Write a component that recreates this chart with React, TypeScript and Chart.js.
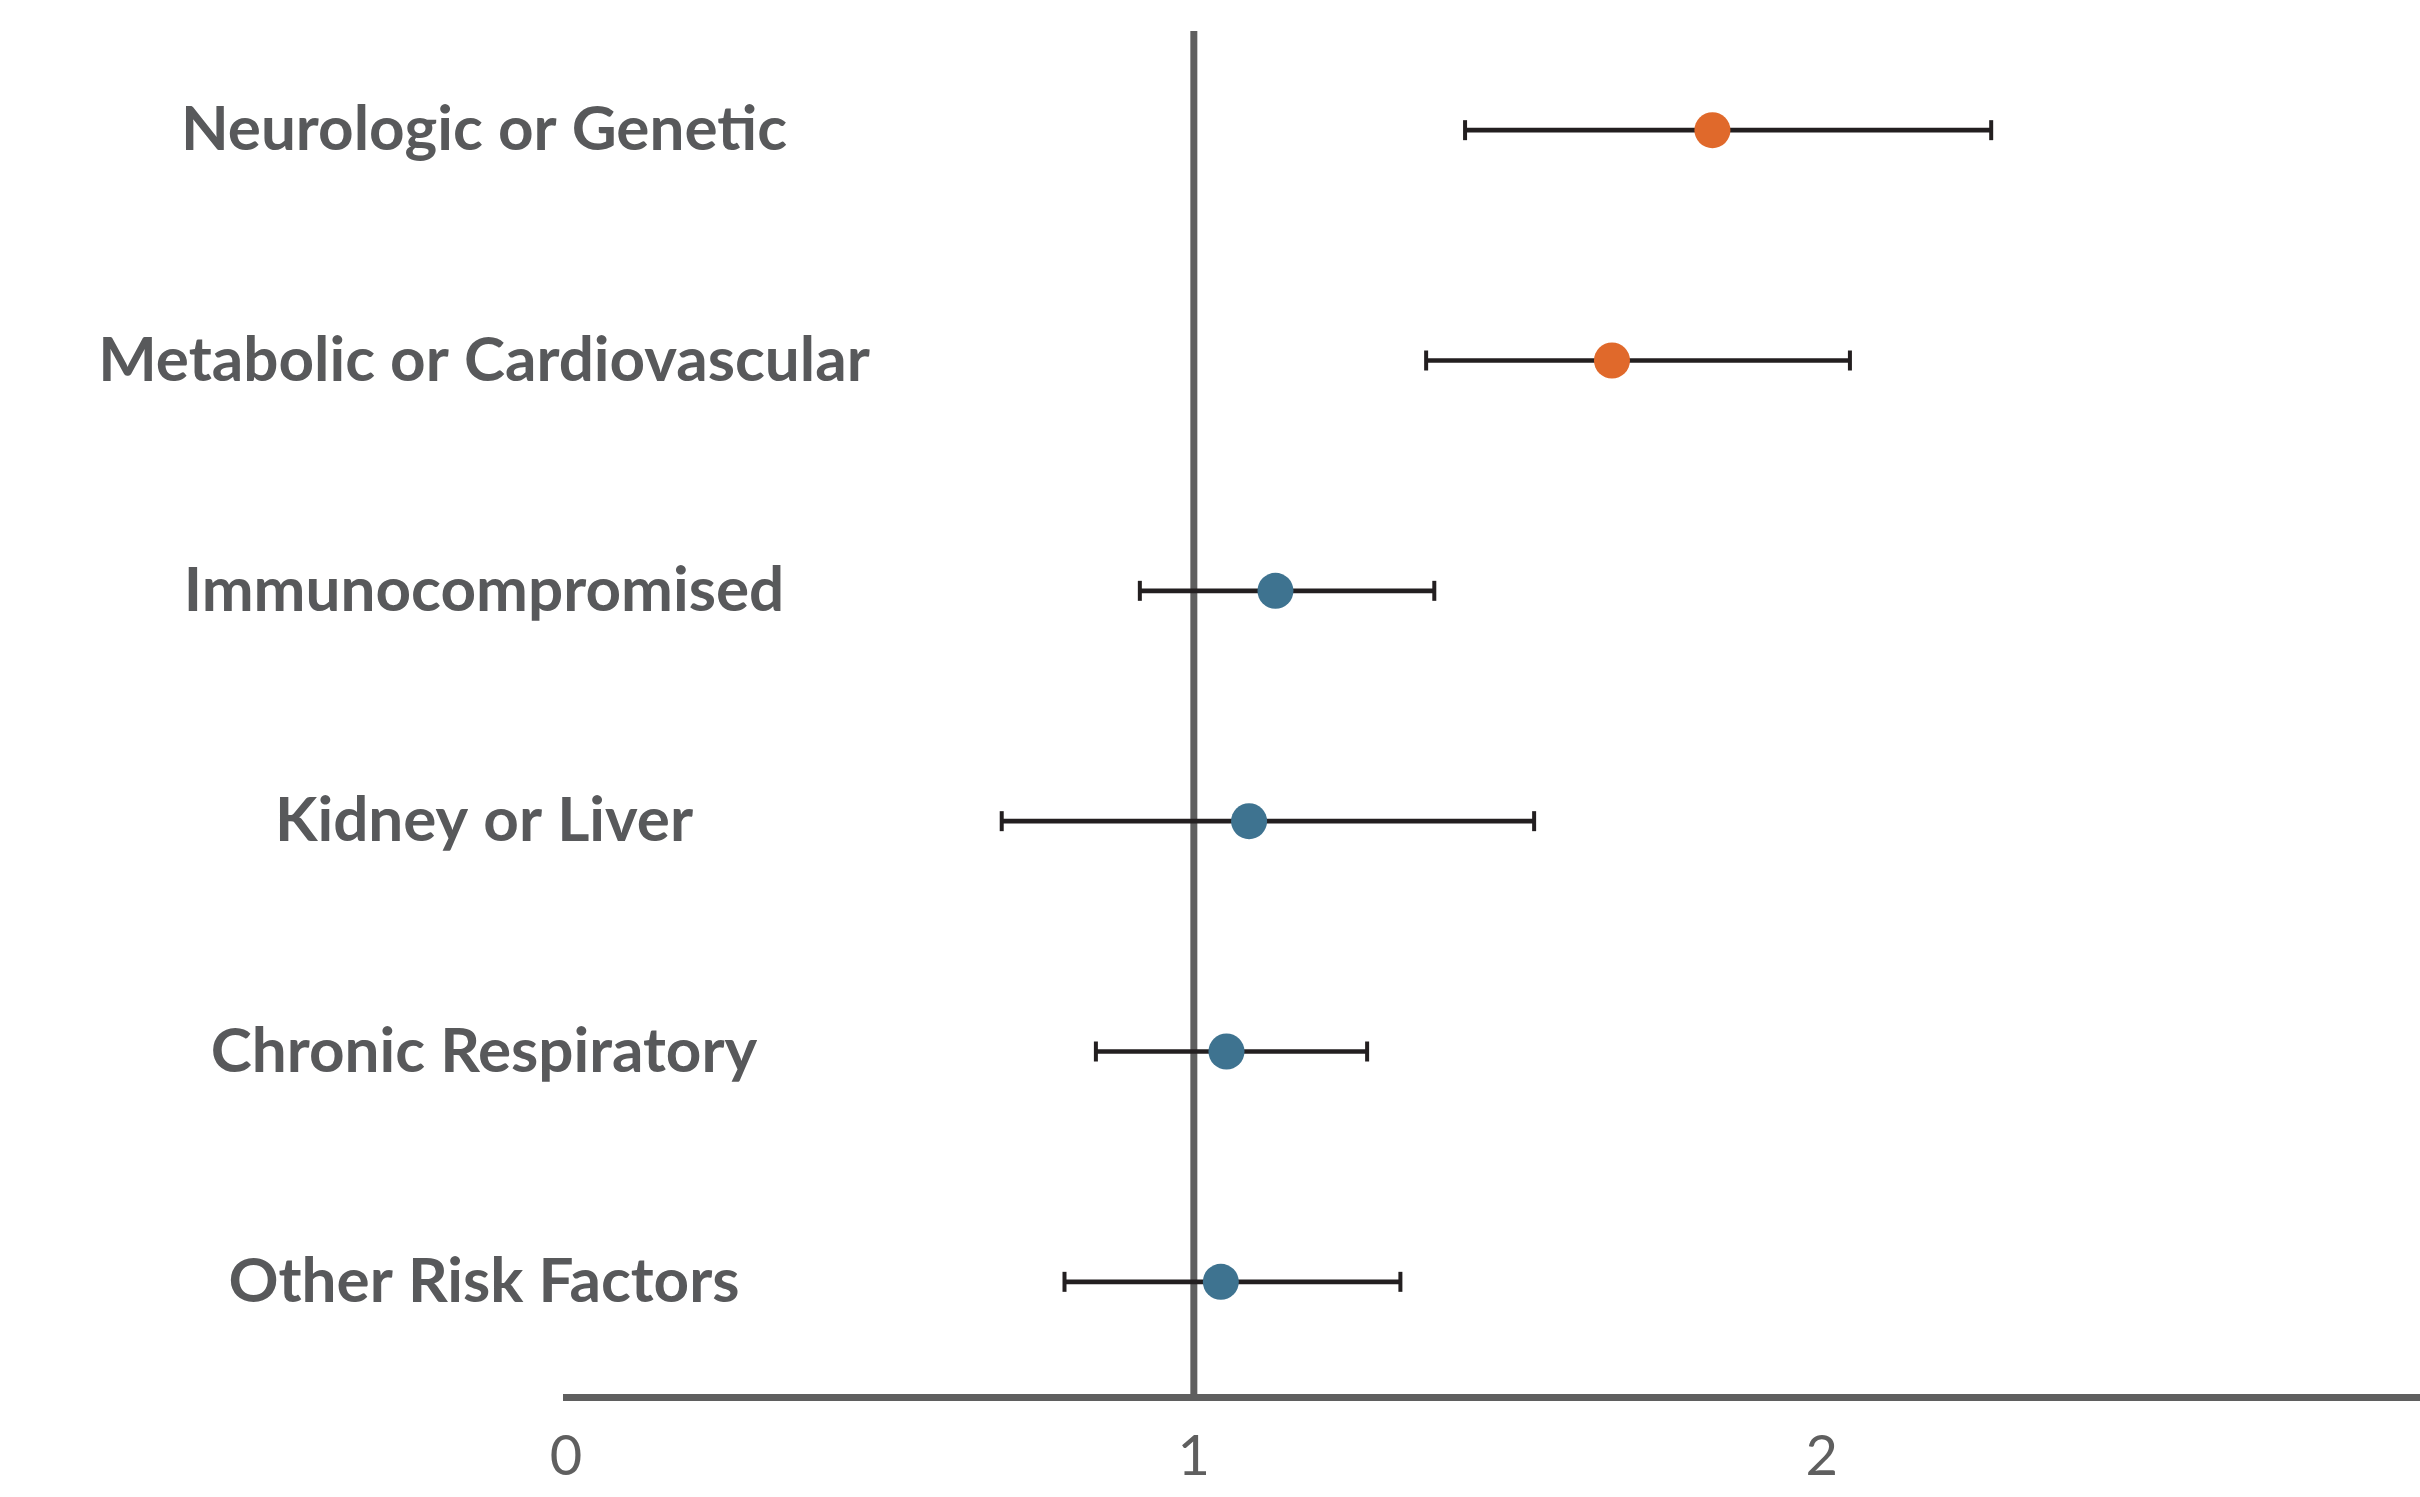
import React, { useEffect, useRef } from "react";
import { Chart, registerables } from "chart.js";

Chart.register(...registerables);

const CATEGORIES = [
  "Neurologic or Genetic",
  "Metabolic or Cardiovascular",
  "Immunocompromised",
  "Kidney or Liver",
  "Chronic Respiratory",
  "Other Risk Factors",
];
const ESTIMATES = [1.826, 1.666, 1.13, 1.088, 1.052, 1.043];
const LOWER = [1.432, 1.37, 0.914, 0.694, 0.844, 0.794];
const UPPER = [2.27, 2.045, 1.383, 1.542, 1.276, 1.329];
const SIGNIFICANT = [true, true, false, false, false, false];
const X_TICKS = [0, 1, 2];
const X_MIN = 0;
const X_MAX = 2.953;
const REFERENCE_VALUE = 1;

const ORANGE = "#E0692B";
const BLUE = "#3E7390";
const WHISKER = "#231F20";
const AXIS_GREY = "#5F5F5F";
const LABEL_GREY = "#58595B";

const rowLabelsPlugin = {
  id: "rowLabels",
  afterDraw(chart: any) {
    const { ctx, chartArea } = chart;
    const y = chart.scales.y;
    ctx.save();
    ctx.font = "700 62px Lato";
    ctx.fillStyle = LABEL_GREY;
    ctx.textAlign = "center";
    ctx.textBaseline = "middle";
    CATEGORIES.forEach((c, i) => {
      ctx.fillText(c, chartArea.left - 82, y.getPixelForValue(i));
    });
    ctx.restore();
  },
};

const referenceLinePlugin = {
  id: "referenceLine",
  beforeDatasetsDraw(chart: any) {
    const { ctx, chartArea } = chart;
    const x = chart.scales.x.getPixelForValue(REFERENCE_VALUE);
    ctx.save();
    ctx.strokeStyle = AXIS_GREY;
    ctx.lineWidth = 7;
    ctx.beginPath();
    ctx.moveTo(x, chartArea.top + 16);
    ctx.lineTo(x, chartArea.bottom);
    ctx.stroke();
    ctx.restore();
  },
};

export default function App() {
  const canvasRef = useRef<HTMLCanvasElement | null>(null);

  useEffect(() => {
    document.body.style.margin = "0";
    const canvas = canvasRef.current;
    if (!canvas) return;
    const pointColors = SIGNIFICANT.map((s) => (s ? ORANGE : BLUE));
    const chart = new Chart(canvas, {
      type: "bar",
      data: {
        labels: CATEGORIES,
        datasets: [
          {
            type: "bar",
            label: "CI",
            data: CATEGORIES.map((_, i) => [LOWER[i], UPPER[i]]) as any,
            backgroundColor: WHISKER,
            borderWidth: 0,
            barThickness: 4,
            order: 3,
          } as any,
          {
            type: "scatter",
            label: "Lower cap",
            data: CATEGORIES.map((c, i) => ({ x: LOWER[i], y: c })) as any,
            pointStyle: "line",
            rotation: 90,
            pointRadius: 10,
            borderColor: WHISKER,
            pointBorderWidth: 4,
            order: 2,
          } as any,
          {
            type: "scatter",
            label: "Upper cap",
            data: CATEGORIES.map((c, i) => ({ x: UPPER[i], y: c })) as any,
            pointStyle: "line",
            rotation: 90,
            pointRadius: 10,
            borderColor: WHISKER,
            pointBorderWidth: 4,
            order: 2,
          } as any,
          {
            type: "scatter",
            label: "Estimate",
            data: CATEGORIES.map((c, i) => ({ x: ESTIMATES[i], y: c })) as any,
            pointRadius: 18,
            pointBackgroundColor: pointColors,
            pointBorderWidth: 0,
            order: 1,
          } as any,
        ],
      },
      options: {
        indexAxis: "y",
        animation: false,
        responsive: false,
        maintainAspectRatio: false,
        layout: { autoPadding: false, padding: { left: 566, top: 15, right: 0, bottom: 0 } },
        plugins: {
          legend: { display: false },
          tooltip: { enabled: false },
        },
        scales: {
          y: {
            type: "category",
            labels: CATEGORIES,
            offset: true,
            display: false,
          },
          x: {
            type: "linear",
            min: X_MIN,
            max: X_MAX,
            grid: { display: false, drawTicks: false },
            border: { display: true, color: AXIS_GREY, width: 7 },
            ticks: {
              color: AXIS_GREY,
              font: { family: "Lato", size: 56, weight: "400" as any },
              padding: 26,
            },
            afterBuildTicks: (scale: any) => {
              scale.ticks = X_TICKS.map((v) => ({ value: v }));
            },
            afterFit: (scale: any) => {
              scale.height = 100;
              scale.paddingLeft = 0;
              scale.paddingRight = 0;
            },
          } as any,
        },
      },
      plugins: [referenceLinePlugin, rowLabelsPlugin],
    });
    return () => chart.destroy();
  }, []);

  return (
    <div style={{ position: "absolute", left: 0, top: 0, width: 2420, height: 1497 }}>
      <canvas ref={canvasRef} width={2420} height={1497} style={{ display: "block" }} />
    </div>
  );
}
